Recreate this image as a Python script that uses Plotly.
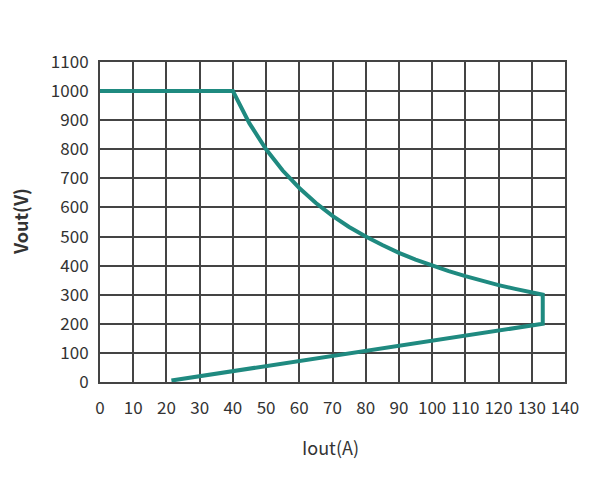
import plotly.graph_objects as go

# Выходная характеристика: ток (A) и напряжение (V)
iout = [0, 40, 45, 50, 55, 60, 65, 70, 75, 80, 85, 90, 95, 100,
        105, 110, 115, 120, 125, 130, 133.3, 133.3, 21.5]
vout = [1000, 1000, 889, 800, 727, 667, 615, 571, 533, 500, 471, 444, 421, 400,
        381, 364, 348, 333, 320, 308, 300, 200, 5]

x_ticks = list(range(0, 150, 10))
y_ticks = list(range(0, 1200, 100))

fig = go.Figure()

fig.add_trace(go.Scatter(
    x=iout, y=vout,
    mode="lines",
    line=dict(color="#1f8a80", width=4),
    showlegend=False,
    hoverinfo="x+y",
))

axis_font = dict(family="Noto Sans CJK SC", size=17, color="#333333")
title_font = dict(family="Noto Sans CJK SC", size=18, color="#333333")

fig.update_layout(
    width=600, height=500,
    paper_bgcolor="white",
    plot_bgcolor="white",
    margin=dict(l=92, r=43, t=54, b=126),
    xaxis=dict(
        range=[0, 140],
        tickvals=x_ticks,
        showgrid=True, gridcolor="#444444", gridwidth=2,
        showline=True, linecolor="#444444", linewidth=2, mirror=True,
        zeroline=False,
        tickfont=axis_font,
        ticks="",
        ticklabelstandoff=10,
        automargin=False,
    ),
    yaxis=dict(
        range=[0, 1100],
        tickvals=y_ticks,
        showgrid=True, gridcolor="#444444", gridwidth=2,
        showline=True, linecolor="#444444", linewidth=2, mirror=True,
        zeroline=False,
        tickfont=axis_font,
        ticks="",
        ticklabelstandoff=6,
        automargin=False,
    ),
    annotations=[
        dict(text="Iout(A)", xref="paper", yref="paper", x=0.495, y=-0.203,
             showarrow=False, font=title_font, xanchor="center", yanchor="middle"),
        dict(text="<b>Vout(V)</b>", xref="paper", yref="paper", x=-0.172, y=0.5,
             showarrow=False, font=title_font, textangle=-90,
             xanchor="center", yanchor="middle"),
    ],
)

fig.write_html("out.html")
